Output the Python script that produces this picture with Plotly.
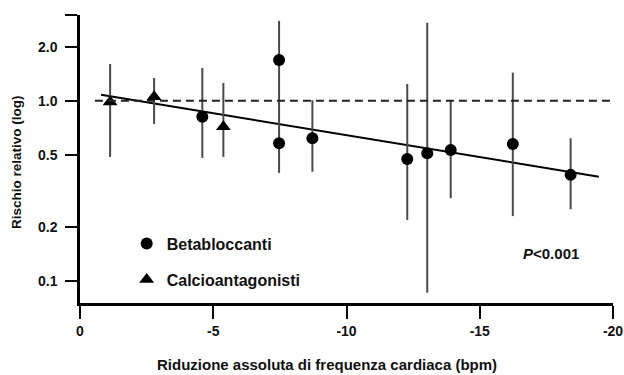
import plotly.graph_objects as go

# Betabloccanti (circles)
beta_x = [-4.59, -7.47, -7.47, -8.72, -12.28, -13.03, -13.91, -16.24, -18.41]
beta_y = [0.817, 1.687, 0.581, 0.620, 0.476, 0.512, 0.533, 0.576, 0.388]
beta_lo = [0.482, 1.00, 0.398, 0.404, 0.218, 0.086, 0.288, 0.229, 0.250]
beta_hi = [1.523, 2.78, 1.00, 1.01, 1.241, 2.72, 1.01, 1.434, 0.620]

# Calcioantagonisti (triangles)
calc_x = [-1.13, -2.78, -5.38]
calc_y = [0.986, 1.055, 0.719]
calc_lo = [0.488, 0.744, 0.488]
calc_hi = [1.603, 1.340, 1.257]

# Regression line endpoints
reg_x = [-0.79, -19.47]
reg_y = [1.082, 0.379]

x_ticks = [0, -5, -10, -15, -20]
x_ticktext = ["0", "-5", "-10", "-15", "-20"]
y_ticks = [0.1, 0.2, 0.5, 1.0, 2.0, 3.0]
y_ticktext = ["0.1", "0.2", "0.5", "1.0", "2.0", ""]

FONT = "Liberation Sans, Arial, Helvetica, sans-serif"
ERRC = "#4a4a4a"

def err(y, lo, hi):
    return dict(type="data", symmetric=False,
                array=[h - v for v, h in zip(y, hi)],
                arrayminus=[v - l for v, l in zip(y, lo)],
                color=ERRC, thickness=2, width=0)

fig = go.Figure()
fig.add_trace(go.Scatter(x=reg_x, y=reg_y, mode="lines",
                         line=dict(color="black", width=2), showlegend=False))
fig.add_trace(go.Scatter(x=beta_x, y=beta_y, mode="markers", name="Betabloccanti",
                         marker=dict(symbol="circle", size=12, color="black"),
                         error_y=err(beta_y, beta_lo, beta_hi),
                         legendgroup="b", legendrank=1))
fig.add_trace(go.Scatter(x=calc_x, y=calc_y, mode="markers", name="Calcioantagonisti",
                         marker=dict(symbol="triangle-up", size=13, color="black"),
                         error_y=err(calc_y, calc_lo, calc_hi),
                         legendgroup="c", legendrank=2))

fig.add_shape(type="line", xref="x", yref="y", x0=-0.56, x1=-20.08, y0=1.0, y1=1.0,
              line=dict(color="#222", width=2, dash="8px,5px"))

axis_common = dict(showline=True, linewidth=2.5, linecolor="black", ticks="outside",
                   tickwidth=2, tickcolor="black", showgrid=False, zeroline=False,
                   automargin=False,
                   tickfont=dict(family=FONT, size=14, color="#111", weight="bold"))

fig.update_layout(
    width=624, height=375,
    margin=dict(l=80, r=11, t=15, b=72, autoexpand=False),
    paper_bgcolor="white", plot_bgcolor="white",
    font=dict(family=FONT, color="#111"),
    xaxis=dict(range=[0, -20], tickvals=x_ticks, ticktext=x_ticktext, ticklen=13,
               **axis_common),
    yaxis=dict(type="log", range=[-1.123, 0.477], tickvals=y_ticks, ticktext=y_ticktext,
               ticklen=12, ticklabelstandoff=5, **axis_common),
    legend=dict(x=0.0876, y=0.265, xanchor="left", yanchor="top",
                font=dict(family=FONT, size=16, color="#111", weight="bold"),
                tracegroupgap=12, bgcolor="rgba(0,0,0,0)"),
    annotations=[
        dict(text="<b>Riduzione assoluta di frequenza cardiaca (bpm)</b>", xref="paper",
             yref="paper", x=0.464, y=-0.215, xanchor="center", yanchor="middle",
             showarrow=False, font=dict(family=FONT, size=15, color="#111")),
        dict(text="<b>Rischio relativo (log)</b>", xref="paper", yref="paper",
             x=-0.118, y=0.49, xanchor="center", yanchor="middle", textangle=-90,
             showarrow=False, font=dict(family=FONT, size=13.5, color="#111")),
        dict(text="<b><i>P</i>&lt;0.001</b>", xref="paper", yref="paper",
             x=0.8837, y=0.1736, xanchor="center", yanchor="middle",
             showarrow=False, font=dict(family=FONT, size=15, color="#111")),
    ],
)

fig.write_html("out.html")
